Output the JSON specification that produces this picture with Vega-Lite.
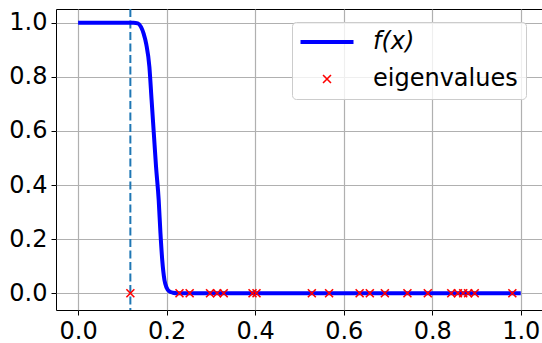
{
  "$schema": "https://vega.github.io/schema/vega-lite/v6.json",
  "width": 486,
  "height": 301,
  "autosize": {"type": "none"},
  "padding": {"left": 56, "top": 9, "right": 0, "bottom": 33},
  "background": "white",
  "datasets": {
    "curve": [
      {"x": 0.0, "y": 1.0, "series": "f(x)"},
      {"x": 0.05, "y": 1.0, "series": "f(x)"},
      {"x": 0.10, "y": 1.0, "series": "f(x)"},
      {"x": 0.125, "y": 1.0, "series": "f(x)"},
      {"x": 0.135, "y": 0.998, "series": "f(x)"},
      {"x": 0.142, "y": 0.985, "series": "f(x)"},
      {"x": 0.148, "y": 0.96, "series": "f(x)"},
      {"x": 0.154, "y": 0.92, "series": "f(x)"},
      {"x": 0.161, "y": 0.837, "series": "f(x)"},
      {"x": 0.166, "y": 0.714, "series": "f(x)"},
      {"x": 0.171, "y": 0.591, "series": "f(x)"},
      {"x": 0.176, "y": 0.468, "series": "f(x)"},
      {"x": 0.182, "y": 0.345, "series": "f(x)"},
      {"x": 0.186, "y": 0.222, "series": "f(x)"},
      {"x": 0.190, "y": 0.123, "series": "f(x)"},
      {"x": 0.195, "y": 0.049, "series": "f(x)"},
      {"x": 0.200, "y": 0.02, "series": "f(x)"},
      {"x": 0.205, "y": 0.008, "series": "f(x)"},
      {"x": 0.214, "y": 0.002, "series": "f(x)"},
      {"x": 0.225, "y": 0.0, "series": "f(x)"},
      {"x": 0.3, "y": 0.0, "series": "f(x)"},
      {"x": 0.5, "y": 0.0, "series": "f(x)"},
      {"x": 0.75, "y": 0.0, "series": "f(x)"},
      {"x": 1.0, "y": 0.0, "series": "f(x)"}
    ],
    "eig": [
      {"x": 0.118, "y": 0, "series": "eigenvalues"},
      {"x": 0.229, "y": 0, "series": "eigenvalues"},
      {"x": 0.252, "y": 0, "series": "eigenvalues"},
      {"x": 0.298, "y": 0, "series": "eigenvalues"},
      {"x": 0.314, "y": 0, "series": "eigenvalues"},
      {"x": 0.329, "y": 0, "series": "eigenvalues"},
      {"x": 0.394, "y": 0, "series": "eigenvalues"},
      {"x": 0.403, "y": 0, "series": "eigenvalues"},
      {"x": 0.528, "y": 0, "series": "eigenvalues"},
      {"x": 0.567, "y": 0, "series": "eigenvalues"},
      {"x": 0.636, "y": 0, "series": "eigenvalues"},
      {"x": 0.659, "y": 0, "series": "eigenvalues"},
      {"x": 0.693, "y": 0, "series": "eigenvalues"},
      {"x": 0.744, "y": 0, "series": "eigenvalues"},
      {"x": 0.790, "y": 0, "series": "eigenvalues"},
      {"x": 0.843, "y": 0, "series": "eigenvalues"},
      {"x": 0.858, "y": 0, "series": "eigenvalues"},
      {"x": 0.870, "y": 0, "series": "eigenvalues"},
      {"x": 0.881, "y": 0, "series": "eigenvalues"},
      {"x": 0.896, "y": 0, "series": "eigenvalues"},
      {"x": 0.981, "y": 0, "series": "eigenvalues"}
    ],
    "vline": [{"x": 0.118}]
  },
  "layer": [
    {
      "data": {"name": "vline"},
      "mark": {"type": "rule", "color": "#1f77b4", "strokeWidth": 2, "strokeDash": [8, 3.5]},
      "encoding": {
        "x": {
          "field": "x", "type": "quantitative",
          "scale": {"domain": [-0.05, 1.048], "nice": false, "zero": false},
          "axis": {"values": [0, 0.2, 0.4, 0.6, 0.8, 1.0], "format": ".1f", "title": null}
        }
      }
    },
    {
      "data": {"name": "curve"},
      "mark": {"type": "line", "strokeWidth": 4, "interpolate": "monotone", "clip": true},
      "encoding": {
        "x": {"field": "x", "type": "quantitative"},
        "y": {
          "field": "y", "type": "quantitative",
          "scale": {"domain": [-0.062, 1.051], "nice": false, "zero": false},
          "axis": {"values": [0, 0.2, 0.4, 0.6, 0.8, 1.0], "format": ".1f", "title": null}
        },
        "color": {
          "field": "series", "type": "nominal",
          "scale": {"domain": ["f(x)", "eigenvalues"], "range": ["#0000ff", "#ff0000"]},
          "legend": {
            "title": null,
            "orient": "none",
            "legendX": 236,
            "legendY": 13,
            "padding": 8,
            "symbolSize": 2809,
            "symbolStrokeWidth": 4,
            "symbolOffset": 15,
            "labelFont": "DejaVu Sans",
            "labelFontSize": 24,
            "labelColor": "#000000",
            "labelOffset": 34,
            "rowPadding": 13,
            "fillColor": "rgba(255,255,255,0.8)",
            "strokeColor": "#cccccc",
            "cornerRadius": 4,
            "encode": {
              "symbols": {"update": {
                "strokeWidth": {"signal": "datum.value === 'f(x)' ? 4 : 1.6"},
                "fill": {"value": "transparent"}
              }},
              "labels": {"update": {
                "fontStyle": {"signal": "datum.value === 'f(x)' ? 'italic' : 'normal'"}
              }}
            }
          }
        }
      }
    },
    {
      "data": {"name": "eig"},
      "mark": {"type": "point", "filled": false, "strokeWidth": 1.6, "size": 2809, "opacity": 1},
      "encoding": {
        "x": {"field": "x", "type": "quantitative"},
        "y": {"field": "y", "type": "quantitative"},
        "color": {"field": "series", "type": "nominal"},
        "shape": {
          "field": "series", "type": "nominal",
          "scale": {"domain": ["f(x)", "eigenvalues"], "range": ["M-1,0L1,0", "M-0.15,-0.15L0.15,0.15M0.15,-0.15L-0.15,0.15"]}
        }
      }
    }
  ],
  "config": {
    "view": {"stroke": "#000000", "strokeWidth": 1},
    "axis": {
      "labelFont": "DejaVu Sans",
      "labelFontSize": 24,
      "labelColor": "#000000",
      "domain": false,
      "tickColor": "#000000",
      "tickSize": 5,
      "tickWidth": 1,
      "labelPadding": 4,
      "grid": true,
      "gridColor": "#b0b0b0",
      "gridWidth": 1.2
    }
  }
}
